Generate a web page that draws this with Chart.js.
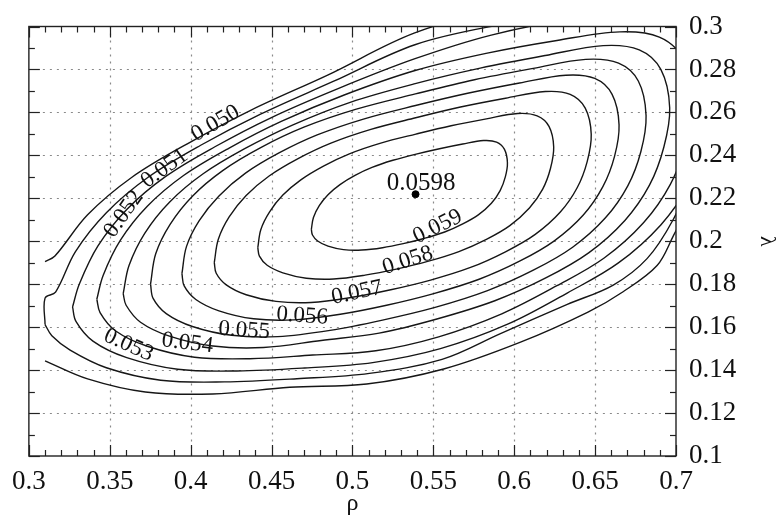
<!DOCTYPE html>
<html>
<head>
<meta charset="utf-8">
<title>Contours of ρ and λ</title>
<script src="https://cdn.jsdelivr.net/npm/chart.js@4.4.1/dist/chart.umd.min.js"></script>
<style>
  html, body { margin: 0; padding: 0; background: #fff; }
  #wrap { width: 778px; height: 526px; }
</style>
</head>
<body>
<div id="wrap"><canvas id="contourChart" width="778" height="526"></canvas></div>
<script>
// ── Data (ρ, λ) ─────────────────────────────────────────────
const levels = ['0.050', '0.051', '0.052', '0.053', '0.054', '0.055', '0.056', '0.057', '0.058', '0.059'];
const peakLabel = '0.0598';
const peak = [0.539, 0.2219];

const xTicks = [0.3, 0.35, 0.4, 0.45, 0.5, 0.55, 0.6, 0.65, 0.7];
const yTicks = [0.1, 0.12, 0.14, 0.16, 0.18, 0.2, 0.22, 0.24, 0.26, 0.28, 0.3];

// outermost contour is cut at ρ = 0.31 (left edge of the computed grid)
const c050 = [
  [0.3100, 0.1443], [0.3363, 0.1359], [0.3720, 0.1298], [0.4136, 0.1289], [0.4612, 0.1320],
  [0.5088, 0.1335], [0.5564, 0.1405], [0.6039, 0.1530], [0.6456, 0.1670], [0.6673, 0.1765],
  [0.6883, 0.1887], [0.6982, 0.2023], [0.7086, 0.2181], [0.7160, 0.2339], [0.7197, 0.2520],
  [0.7209, 0.2701], [0.7179, 0.2860], [0.7117, 0.3000], [0.6963, 0.3100], [0.6456, 0.3110],
  [0.5920, 0.3080], [0.5385, 0.2970], [0.4850, 0.2775], [0.4374, 0.2611], [0.3982, 0.2455],
  [0.3637, 0.2298], [0.3363, 0.2123], [0.3161, 0.1931], [0.3100, 0.1905]
];
const c051 = [
  [0.3100, 0.1612], [0.3100, 0.1735], [0.3165, 0.1763], [0.3288, 0.1952], [0.3479, 0.2133],
  [0.3737, 0.2298], [0.4062, 0.2447], [0.4432, 0.2592], [0.4881, 0.2744], [0.5386, 0.2915],
  [0.5891, 0.3005], [0.6395, 0.3060], [0.6932, 0.3041], [0.7037, 0.2950], [0.7099, 0.2814],
  [0.7136, 0.2633], [0.7123, 0.2452], [0.7074, 0.2272], [0.6982, 0.2100], [0.6821, 0.1919],
  [0.6612, 0.1796], [0.6328, 0.1706], [0.5915, 0.1570], [0.5554, 0.1450], [0.5105, 0.1385],
  [0.4657, 0.1360], [0.4208, 0.1345], [0.3815, 0.1353], [0.3479, 0.1411], [0.3255, 0.1493],
  [0.3142, 0.1560], [0.3100, 0.1612]
];
const c052 = [
  [0.3270, 0.1694], [0.3312, 0.1801], [0.3427, 0.1978], [0.3605, 0.2148], [0.3846, 0.2302],
  [0.4150, 0.2440], [0.4496, 0.2575], [0.4915, 0.2712], [0.5387, 0.2850], [0.5858, 0.2960],
  [0.6330, 0.3030], [0.6749, 0.3050], [0.7011, 0.3007], [0.7168, 0.2899], [0.7231, 0.2691],
  [0.7189, 0.2476], [0.7084, 0.2268], [0.6906, 0.2076], [0.6644, 0.1899], [0.6330, 0.1760],
  [0.5963, 0.1615], [0.5544, 0.1500], [0.5125, 0.1435], [0.4705, 0.1410], [0.4286, 0.1396],
  [0.3920, 0.1404], [0.3605, 0.1458], [0.3396, 0.1535], [0.3291, 0.1627], [0.3270, 0.1694]
];
const c053 = [
  [0.3420, 0.1730], [0.3459, 0.1841], [0.3566, 0.2005], [0.3732, 0.2163], [0.3956, 0.2306],
  [0.4238, 0.2434], [0.4560, 0.2558], [0.4949, 0.2681], [0.5387, 0.2795], [0.5826, 0.2875],
  [0.6264, 0.2935], [0.6653, 0.2975], [0.6897, 0.2951], [0.7043, 0.2851], [0.7101, 0.2658],
  [0.7062, 0.2458], [0.6965, 0.2265], [0.6799, 0.2086], [0.6556, 0.1922], [0.6264, 0.1793],
  [0.5923, 0.1662], [0.5533, 0.1555], [0.5144, 0.1490], [0.4754, 0.1470], [0.4365, 0.1453],
  [0.4024, 0.1460], [0.3732, 0.1511], [0.3537, 0.1582], [0.3440, 0.1668], [0.3420, 0.1730]
];
const c054 = [
  [0.3583, 0.1756], [0.3619, 0.1887], [0.3717, 0.2038], [0.3869, 0.2182], [0.4075, 0.2313],
  [0.4334, 0.2431], [0.4629, 0.2541], [0.4986, 0.2647], [0.5388, 0.2734], [0.5790, 0.2806],
  [0.6192, 0.2865], [0.6550, 0.2911], [0.6773, 0.2891], [0.6907, 0.2799], [0.6961, 0.2622],
  [0.6925, 0.2439], [0.6836, 0.2261], [0.6684, 0.2097], [0.6460, 0.1946], [0.6192, 0.1828],
  [0.5880, 0.1723], [0.5522, 0.1638], [0.5165, 0.1572], [0.4807, 0.1538], [0.4450, 0.1505],
  [0.4137, 0.1512], [0.3869, 0.1558], [0.3690, 0.1623], [0.3601, 0.1702], [0.3583, 0.1756]
];
const c055 = [
  [0.3752, 0.1800], [0.3784, 0.1942], [0.3873, 0.2079], [0.4011, 0.2210], [0.4198, 0.2329],
  [0.4433, 0.2436], [0.4700, 0.2531], [0.5024, 0.2615], [0.5389, 0.2686], [0.5754, 0.2752],
  [0.6118, 0.2805], [0.6442, 0.2847], [0.6645, 0.2829], [0.6767, 0.2746], [0.6815, 0.2585],
  [0.6783, 0.2418], [0.6702, 0.2258], [0.6564, 0.2109], [0.6361, 0.1972], [0.6118, 0.1865],
  [0.5835, 0.1770], [0.5511, 0.1692], [0.5186, 0.1633], [0.4862, 0.1585], [0.4538, 0.1556],
  [0.4254, 0.1562], [0.4011, 0.1603], [0.3849, 0.1663], [0.3768, 0.1734], [0.3752, 0.1800]
];
const c056 = [
  [0.3946, 0.1849], [0.3974, 0.1975], [0.4053, 0.2096], [0.4175, 0.2211], [0.4339, 0.2317],
  [0.4546, 0.2411], [0.4782, 0.2495], [0.5068, 0.2569], [0.5390, 0.2632], [0.5712, 0.2689],
  [0.6033, 0.2737], [0.6319, 0.2773], [0.6498, 0.2758], [0.6605, 0.2684], [0.6648, 0.2542],
  [0.6620, 0.2395], [0.6548, 0.2254], [0.6427, 0.2122], [0.6248, 0.2002], [0.6033, 0.1907],
  [0.5783, 0.1823], [0.5497, 0.1755], [0.5211, 0.1702], [0.4925, 0.1660], [0.4639, 0.1634],
  [0.4389, 0.1639], [0.4175, 0.1676], [0.4032, 0.1729], [0.3960, 0.1792], [0.3946, 0.1849]
];
const c057 = [
  [0.4146, 0.1901], [0.4171, 0.2009], [0.4238, 0.2113], [0.4343, 0.2213], [0.4485, 0.2304],
  [0.4664, 0.2385], [0.4867, 0.2457], [0.5114, 0.2521], [0.5391, 0.2575], [0.5668, 0.2625],
  [0.5946, 0.2666], [0.6192, 0.2697], [0.6346, 0.2684], [0.6439, 0.2620], [0.6476, 0.2498],
  [0.6451, 0.2371], [0.6389, 0.2249], [0.6285, 0.2136], [0.6130, 0.2032], [0.5946, 0.1951],
  [0.5730, 0.1878], [0.5483, 0.1819], [0.5237, 0.1774], [0.4990, 0.1738], [0.4744, 0.1715],
  [0.4528, 0.1720], [0.4343, 0.1751], [0.4220, 0.1797], [0.4158, 0.1851], [0.4146, 0.1901]
];
const c058 = [
  [0.4415, 0.1970], [0.4434, 0.2055], [0.4488, 0.2137], [0.4570, 0.2215], [0.4681, 0.2286],
  [0.4821, 0.2350], [0.4981, 0.2407], [0.5175, 0.2457], [0.5392, 0.2499], [0.5610, 0.2538],
  [0.5828, 0.2570], [0.6021, 0.2595], [0.6142, 0.2584], [0.6215, 0.2535], [0.6244, 0.2439],
  [0.6224, 0.2339], [0.6176, 0.2243], [0.6094, 0.2155], [0.5973, 0.2073], [0.5828, 0.2009],
  [0.5658, 0.1952], [0.5465, 0.1906], [0.5271, 0.1870], [0.5078, 0.1842], [0.4884, 0.1824],
  [0.4715, 0.1828], [0.4570, 0.1853], [0.4473, 0.1888], [0.4425, 0.1931], [0.4415, 0.1970]
];
const c059 = [
  [0.4746, 0.2055], [0.4759, 0.2111], [0.4795, 0.2166], [0.4849, 0.2217], [0.4923, 0.2264],
  [0.5016, 0.2307], [0.5121, 0.2344], [0.5250, 0.2377], [0.5394, 0.2406], [0.5538, 0.2431],
  [0.5682, 0.2453], [0.5810, 0.2469], [0.5891, 0.2462], [0.5939, 0.2429], [0.5958, 0.2366],
  [0.5945, 0.2300], [0.5913, 0.2236], [0.5859, 0.2177], [0.5778, 0.2123], [0.5682, 0.2081],
  [0.5570, 0.2043], [0.5442, 0.2013], [0.5314, 0.1989], [0.5186, 0.1970], [0.5057, 0.1959],
  [0.4945, 0.1961], [0.4849, 0.1977], [0.4785, 0.2001], [0.4753, 0.2029], [0.4746, 0.2055]
];
const contours = [c050, c051, c052, c053, c054, c055, c056, c057, c058, c059];

// where each level's label sits on its curve, and its slant in degrees
const labelSpots = [
  { at: [0.4153, 0.2548], rot: -30 },
  { at: [0.3838, 0.2339], rot: -36 },
  { at: [0.3586, 0.2127], rot: -55 },
  { at: [0.3616, 0.1516], rot: 24 },
  { at: [0.3980, 0.1525], rot: 7 },
  { at: [0.4331, 0.1584], rot: 4 },
  { at: [0.4689, 0.1652], rot: 4 },
  { at: [0.5028, 0.1760], rot: -12 },
  { at: [0.5342, 0.1910], rot: -18 },
  { at: [0.5527, 0.2068], rot: -26 }
];
const peakLabelAt = [0.5425, 0.2267];

// ── Helpers ─────────────────────────────────────────────────
const SERIF = '"Liberation Serif", "Times New Roman", Times, "Nimbus Roman", "DejaVu Serif", serif';
const INK = '#111';

function fmtTick(v) {
  return String(Math.round(v * 100) / 100);
}

function minorBetween(ticks, parts) {
  const out = [];
  for (let i = 0; i < ticks.length - 1; i++) {
    const step = (ticks[i + 1] - ticks[i]) / parts;
    for (let k = 1; k < parts; k++) out.push(ticks[i] + k * step);
  }
  return out;
}

// ── Frame, grid, tick marks and contour labels ──────────────
const framePlugin = {
  id: 'frame',
  beforeDatasetsDraw(chart) {
    const { ctx, chartArea: a, scales: { x, y } } = chart;
    ctx.save();
    ctx.strokeStyle = '#8a8a8a';
    ctx.lineWidth = 1.2;
    ctx.setLineDash([2, 5]);
    xTicks.slice(1, -1).forEach(v => {
      const px = Math.round(x.getPixelForValue(v)) + 0.5;
      ctx.beginPath(); ctx.moveTo(px, a.top); ctx.lineTo(px, a.bottom); ctx.stroke();
    });
    yTicks.slice(1, -1).forEach(v => {
      const py = Math.round(y.getPixelForValue(v)) + 0.5;
      ctx.beginPath(); ctx.moveTo(a.left, py); ctx.lineTo(a.right, py); ctx.stroke();
    });
    ctx.restore();
  },
  afterDatasetsDraw(chart) {
    const { ctx, chartArea: a, scales: { x, y } } = chart;
    ctx.save();
    ctx.strokeStyle = '#222';
    ctx.lineWidth = 1.2;
    ctx.setLineDash([]);

    const mark = (x1, y1, x2, y2) => {
      ctx.beginPath(); ctx.moveTo(x1, y1); ctx.lineTo(x2, y2); ctx.stroke();
    };
    const MAJOR = 11, MINOR = 6;
    xTicks.forEach(v => {
      const px = Math.round(x.getPixelForValue(v)) + 0.5;
      mark(px, a.bottom, px, a.bottom - MAJOR);
      mark(px, a.top, px, a.top + MAJOR);
    });
    minorBetween(xTicks, 5).forEach(v => {
      const px = Math.round(x.getPixelForValue(v)) + 0.5;
      mark(px, a.bottom, px, a.bottom - MINOR);
      mark(px, a.top, px, a.top + MINOR);
    });
    yTicks.forEach(v => {
      const py = Math.round(y.getPixelForValue(v)) + 0.5;
      mark(a.left, py, a.left + MAJOR, py);
      mark(a.right, py, a.right - MAJOR, py);
    });
    minorBetween(yTicks, 2).forEach(v => {
      const py = Math.round(y.getPixelForValue(v)) + 0.5;
      mark(a.left, py, a.left + MINOR, py);
      mark(a.right, py, a.right - MINOR, py);
    });

    ctx.lineWidth = 1.4;
    ctx.strokeRect(a.left, a.top, a.right - a.left, a.bottom - a.top);

    // contour level labels
    ctx.fillStyle = INK;
    ctx.font = '23px ' + SERIF;
    ctx.textAlign = 'center';
    ctx.textBaseline = 'middle';
    levels.forEach((txt, i) => {
      const s = labelSpots[i];
      ctx.save();
      ctx.translate(x.getPixelForValue(s.at[0]), y.getPixelForValue(s.at[1]));
      ctx.rotate(s.rot * Math.PI / 180);
      ctx.fillText(txt, 0, 0);
      ctx.restore();
    });
    ctx.font = '25px ' + SERIF;
    ctx.fillText(peakLabel, x.getPixelForValue(peakLabelAt[0]), y.getPixelForValue(peakLabelAt[1]));
    ctx.restore();
  }
};

// ── Chart ───────────────────────────────────────────────────
const datasets = contours.map((pts, i) => ({
  label: levels[i],
  data: pts.map(p => ({ x: p[0], y: p[1] })),
  showLine: true,
  borderColor: '#161616',
  borderWidth: 1.4,
  pointRadius: 0,
  tension: 0.35,
  fill: false
}));
datasets.push({
  label: peakLabel,
  data: [{ x: peak[0], y: peak[1] }],
  showLine: false,
  pointRadius: 3.5,
  pointBackgroundColor: '#000',
  pointBorderColor: '#000'
});

new Chart(document.getElementById('contourChart'), {
  type: 'scatter',
  data: { datasets },
  options: {
    responsive: false,
    animation: false,
    layout: { padding: { left: 27, top: 14, right: 0, bottom: 0 } },
    plugins: { legend: { display: false }, tooltip: { enabled: false } },
    scales: {
      x: {
        type: 'linear', position: 'bottom', min: 0.3, max: 0.7,
        afterBuildTicks: s => { s.ticks = xTicks.map(v => ({ value: v })); },
        afterFit: s => { s.height = 70; },
        grid: { display: false, drawTicks: false },
        border: { display: false },
        ticks: {
          autoSkip: false, maxRotation: 0, padding: 12, color: INK,
          font: { family: SERIF, size: 27, lineHeight: 1 },
          callback: v => fmtTick(v)
        },
        title: {
          display: true, text: 'ρ', color: INK,
          font: { family: SERIF, size: 24, lineHeight: 1.2 },
          padding: { top: 0, bottom: 8 }
        }
      },
      y: {
        type: 'linear', position: 'right', min: 0.1, max: 0.3,
        afterBuildTicks: s => { s.ticks = yTicks.map(v => ({ value: v })); },
        afterFit: s => { s.width = 102; },
        grid: { display: false, drawTicks: false },
        border: { display: false },
        ticks: {
          autoSkip: false, padding: 13, color: INK,
          font: { family: SERIF, size: 27, lineHeight: 1 },
          callback: v => fmtTick(v)
        },
        title: {
          display: true, text: 'λ', color: INK,
          font: { family: SERIF, size: 22, lineHeight: 1 },
          padding: { top: 0, bottom: 0 }
        }
      }
    }
  },
  plugins: [framePlugin]
});
</script>
</body>
</html>
